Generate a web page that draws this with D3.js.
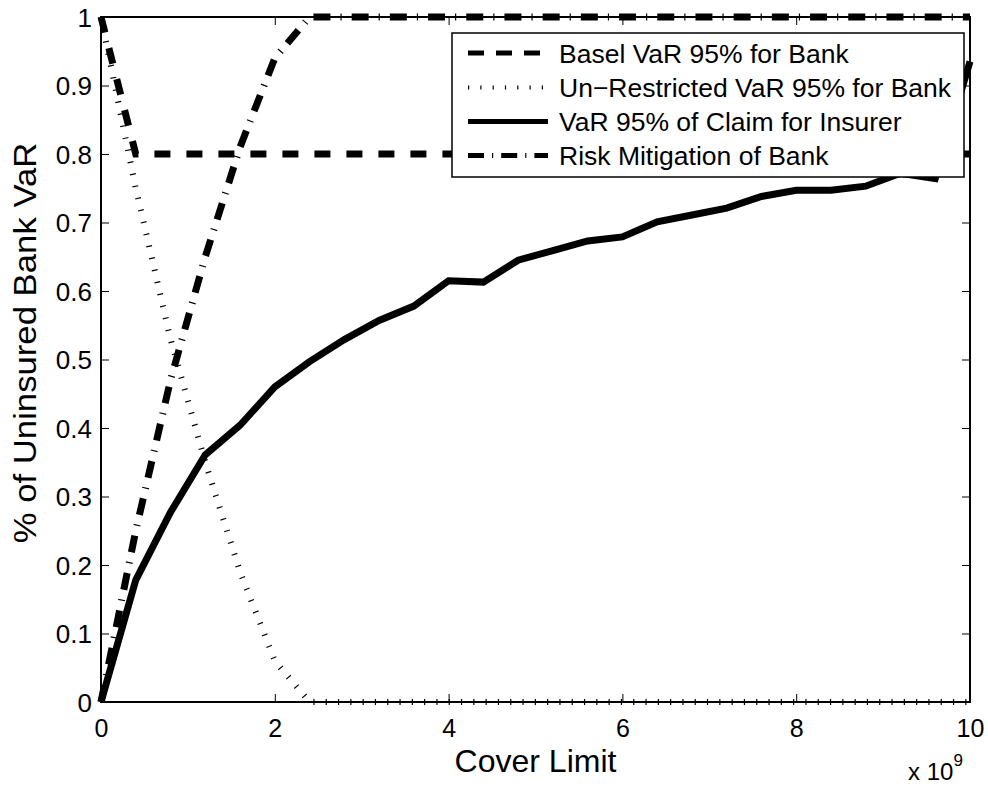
<!DOCTYPE html>
<html>
<head>
<meta charset="utf-8">
<script src="https://cdn.jsdelivr.net/npm/d3@7"></script>
<style>
  html, body { margin: 0; padding: 0; background: #fff; }
  svg { display: block; }
  text { font-family: "Liberation Sans", Arial, Helvetica, sans-serif; fill: #000; }
</style>
</head>
<body>
<svg id="chart" width="988" height="788"></svg>
<script>
// Cover limit grid (in units of 10^9)
const coverLimit = [0, 0.4, 0.8, 1.2, 1.6, 2.0, 2.4, 2.8, 3.2, 3.6, 4.0, 4.4, 4.8,
                    5.2, 5.6, 6.0, 6.4, 6.8, 7.2, 7.6, 8.0, 8.4, 8.8, 9.2, 9.6, 10];

// Share of uninsured bank VaR for each series
const baselVaR = [1, 0.8, 0.8, 0.8, 0.8, 0.8, 0.8, 0.8, 0.8, 0.8, 0.8, 0.8, 0.8,
                  0.8, 0.8, 0.8, 0.8, 0.8, 0.8, 0.8, 0.8, 0.8, 0.8, 0.8, 0.8, 0.8];
const unrestrictedVaR = [1, 0.75, 0.53, 0.35, 0.19, 0.06, 0, 0, 0, 0, 0, 0, 0,
                         0, 0, 0, 0, 0, 0, 0, 0, 0, 0, 0, 0, 0];
const insurerClaimVaR = [0, 0.178, 0.277, 0.361, 0.404, 0.460, 0.497, 0.529, 0.557, 0.578,
                         0.615, 0.613, 0.645, 0.659, 0.673, 0.679, 0.701, 0.711, 0.721,
                         0.738, 0.747, 0.747, 0.753, 0.772, 0.764, 0.935];
const riskMitigation = [0, 0.25, 0.47, 0.65, 0.81, 0.94, 1, 1, 1, 1, 1, 1, 1,
                        1, 1, 1, 1, 1, 1, 1, 1, 1, 1, 1, 1, 1];

const seriesNames = ["Basel VaR 95% for Bank",
                     "Un\u2212Restricted VaR 95% for Bank",
                     "VaR 95% of Claim for Insurer",
                     "Risk Mitigation of Bank"];

const xTickValues = [0, 2, 4, 6, 8, 10];
const yTickValues = [0, 0.1, 0.2, 0.3, 0.4, 0.5, 0.6, 0.7, 0.8, 0.9, 1];

const xLabel = "Cover Limit";
const yLabel = "% of Uninsured Bank VaR";

// ---- layout ----
const plotLeft = 101, plotRight = 970, plotTop = 17, plotBottom = 702;

const svg = d3.select("#chart");

const x = d3.scaleLinear().domain([0, 10]).range([plotLeft, plotRight]);
const y = d3.scaleLinear().domain([0, 1]).range([plotBottom, plotTop]);

// line styles: dashed, dotted, solid, dash-dot
const styles = [
  { width: 7, dash: "16,16", legendDash: "16,12", legendWidth: 5 },
  { width: 6, dash: "1.2,11.1", legendDash: "1.2,11.1", legendWidth: 4 },
  { width: 7, dash: null, legendDash: null, legendWidth: 5 },
  { width: 7, dash: "17,10,1.2,10", legendDash: "16,8,1.2,8", legendWidth: 5 }
];

const seriesValues = [baselVaR, unrestrictedVaR, insurerClaimVaR, riskMitigation];

const line = d3.line()
  .x((d, i) => x(coverLimit[i]))
  .y(d => y(d));

// ---- axes (box with inward ticks on all four sides) ----
const tick = 8;
const fmtY = d => (d === 0 || d === 1) ? String(d) : d3.format(".1f")(d);

svg.append("g")
  .attr("transform", `translate(0,${plotBottom})`)
  .call(d3.axisBottom(x).tickValues(xTickValues).tickSizeInner(-tick).tickSizeOuter(0).tickFormat(d3.format("d")))
  .call(g => g.select(".domain").remove())
  .call(g => g.selectAll("line").attr("stroke", "#000").attr("stroke-width", 1))
  .call(g => g.selectAll("text").attr("y", 35).attr("dy", null)
    .attr("font-size", 25).attr("fill", "#000"));

svg.append("g")
  .attr("transform", `translate(0,${plotTop})`)
  .call(d3.axisTop(x).tickValues(xTickValues).tickSizeInner(-tick).tickSizeOuter(0).tickFormat(""))
  .call(g => g.select(".domain").remove())
  .call(g => g.selectAll("line").attr("stroke", "#000").attr("stroke-width", 1));

svg.append("g")
  .attr("transform", `translate(${plotLeft},0)`)
  .call(d3.axisLeft(y).tickValues(yTickValues).tickSizeInner(-tick).tickSizeOuter(0).tickFormat(fmtY))
  .call(g => g.select(".domain").remove())
  .call(g => g.selectAll("line").attr("stroke", "#000").attr("stroke-width", 1))
  .call(g => g.selectAll("text").attr("x", -9).attr("dy", "0.36em")
    .attr("font-size", 26).attr("fill", "#000"));

svg.append("g")
  .attr("transform", `translate(${plotRight},0)`)
  .call(d3.axisRight(y).tickValues(yTickValues).tickSizeInner(-tick).tickSizeOuter(0).tickFormat(""))
  .call(g => g.select(".domain").remove())
  .call(g => g.selectAll("line").attr("stroke", "#000").attr("stroke-width", 1));

svg.append("rect")
  .attr("x", plotLeft).attr("y", plotTop)
  .attr("width", plotRight - plotLeft).attr("height", plotBottom - plotTop)
  .attr("fill", "none").attr("stroke", "#000").attr("stroke-width", 2);

// ---- series ----
seriesValues.forEach((vals, k) => {
  const s = styles[k];
  svg.append("path")
    .datum(vals)
    .attr("d", line)
    .attr("fill", "none")
    .attr("stroke", "#000")
    .attr("stroke-width", s.width)
    .attr("stroke-linecap", "butt")
    .attr("stroke-linejoin", "miter")
    .attr("stroke-miterlimit", 4)
    .attr("stroke-dasharray", s.dash);
});

// ---- axis labels ----
svg.append("text")
  .attr("x", (plotLeft + plotRight) / 2).attr("y", 772)
  .attr("text-anchor", "middle").attr("font-size", 32)
  .text(xLabel);

svg.append("text")
  .attr("transform", "translate(36,343) rotate(-90) scale(1.12,1)")
  .attr("text-anchor", "middle").attr("font-size", 31)
  .text(yLabel);

// exponent multiplier under the x axis
const expo = svg.append("text").attr("x", 908).attr("y", 780).attr("font-size", 24);
expo.append("tspan").text("x 10");
expo.append("tspan").attr("dy", -14).attr("font-size", 17).text("9");

// ---- legend ----
const lg = svg.append("g");
lg.append("rect")
  .attr("x", 452).attr("y", 33).attr("width", 512).attr("height", 144)
  .attr("fill", "#fff").attr("stroke", "#000").attr("stroke-width", 1.5);

const rowY = [53, 87.5, 121.5, 155.5];
seriesNames.forEach((name, k) => {
  const s = styles[k];
  lg.append("line")
    .attr("x1", 468).attr("x2", 548)
    .attr("y1", rowY[k]).attr("y2", rowY[k])
    .attr("stroke", "#000")
    .attr("stroke-width", s.legendWidth)
    .attr("stroke-linecap", "butt")
    .attr("stroke-dasharray", s.legendDash);
  lg.append("text")
    .attr("x", 559).attr("y", rowY[k]).attr("dy", "0.36em")
    .attr("font-size", 26.5)
    .text(name);
});
</script>
</body>
</html>
